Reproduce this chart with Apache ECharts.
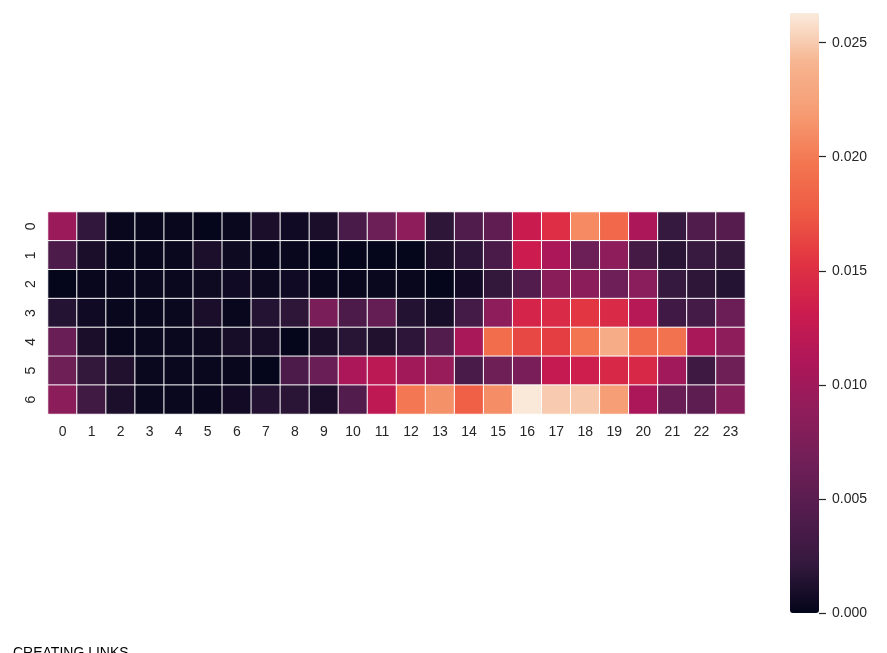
<!DOCTYPE html>
<html>
<head>
<meta charset="utf-8">
<script src="https://cdn.jsdelivr.net/npm/echarts@6/dist/echarts.min.js"></script>
<style>
  html, body { margin: 0; padding: 0; background: #fff; }
  #main { width: 887px; height: 653px; }
</style>
</head>
<body>
<div id="main"></div>
<script>
// 横轴：小时，纵轴：星期
var hours = ['0','1','2','3','4','5','6','7','8','9','10','11','12','13','14','15','16','17','18','19','20','21','22','23'];
var days = ['0','1','2','3','4','5','6'];

// 每一行的数值
var row0 = [0.0097,0.0020,0.0002,0.0002,0.0002,0.0001,0.0003,0.0010,0.0006,0.0010,0.0036,0.0063,0.0087,0.0019,0.0042,0.0053,0.0131,0.0149,0.0209,0.0187,0.0109,0.0022,0.0042,0.0047];
var row1 = [0.0040,0.0010,0.0002,0.0002,0.0003,0.0011,0.0005,0.0002,0.0002,0.0001,0.0001,0.0001,0.0001,0.0011,0.0018,0.0038,0.0132,0.0108,0.0063,0.0087,0.0034,0.0017,0.0024,0.0021];
var row2 = [0.0001,0.0002,0.0002,0.0003,0.0003,0.0005,0.0006,0.0004,0.0006,0.0002,0.0002,0.0003,0.0002,0.0001,0.0007,0.0021,0.0044,0.0083,0.0086,0.0065,0.0085,0.0022,0.0019,0.0015];
var row3 = [0.0015,0.0006,0.0002,0.0002,0.0003,0.0010,0.0002,0.0015,0.0019,0.0072,0.0040,0.0058,0.0014,0.0009,0.0033,0.0088,0.0140,0.0145,0.0155,0.0145,0.0117,0.0030,0.0033,0.0062];
var row4 = [0.0061,0.0010,0.0002,0.0003,0.0003,0.0004,0.0009,0.0009,0.0001,0.0010,0.0016,0.0013,0.0018,0.0044,0.0107,0.0190,0.0165,0.0159,0.0196,0.0235,0.0188,0.0194,0.0107,0.0087];
var row5 = [0.0064,0.0021,0.0013,0.0003,0.0003,0.0003,0.0002,0.0001,0.0040,0.0061,0.0108,0.0120,0.0102,0.0095,0.0036,0.0064,0.0072,0.0127,0.0134,0.0143,0.0143,0.0101,0.0029,0.0064];
var row6 = [0.0086,0.0031,0.0011,0.0003,0.0003,0.0002,0.0007,0.0014,0.0017,0.0010,0.0044,0.0122,0.0198,0.0213,0.0180,0.0211,0.0262,0.0250,0.0249,0.0222,0.0108,0.0060,0.0052,0.0081];

// 色条范围与刻度
var vMax = 0.0263;
var tickMax = 0.025;
var tickStep = 0.005;

var rows = [row0, row1, row2, row3, row4, row5, row6];
var data = [];
rows.forEach(function (r, y) {
  r.forEach(function (v, x) {
    data.push([x, y, v]);
  });
});

// rocket 色带
var rocket = ['#03051a','#35193e','#521c4d','#701f57','#8e1d5b','#ad1759','#cb1b4f',
              '#e13342','#ee5a43','#f37651','#f69c73','#f6b48f','#faebdd'];

var txt = '#262626';
var font = 'Liberation Sans, Arial, sans-serif';

// 色条位置：底部 613，高 600；刻度轴只覆盖 0 ~ 0.025
var barTop = 13, barH = 600;
var axisH = barH * tickMax / vMax;

var chart = echarts.init(document.getElementById('main'));
var option = {
  animation: false,
  grid: [
    { left: 48, top: 212, width: 697, height: 202 },
    { left: 790, top: barTop + barH - axisH, width: 29, height: axisH }
  ],
  xAxis: [
    {
      type: 'category', data: hours, gridIndex: 0,
      axisLine: { show: false }, axisTick: { show: false },
      axisLabel: { color: txt, fontSize: 14, fontFamily: font, margin: 11 },
      splitArea: { show: false }
    },
    { type: 'value', gridIndex: 1, show: false }
  ],
  yAxis: [
    {
      type: 'category', data: days, gridIndex: 0, inverse: true,
      axisLine: { show: false }, axisTick: { show: false },
      axisLabel: { color: txt, fontSize: 14, fontFamily: font, rotate: 90, margin: 10 },
      splitArea: { show: false }
    },
    {
      type: 'value', gridIndex: 1, position: 'right', min: 0, max: tickMax, interval: tickStep,
      z: 10,
      axisLine: { show: false, onZero: false },
      splitLine: { show: false },
      axisTick: { show: true, inside: false, length: 7, lineStyle: { color: txt, width: 1.2 } },
      axisLabel: {
        color: txt, fontSize: 14, fontFamily: font, margin: 13,
        formatter: function (v) { return v.toFixed(3); }
      }
    }
  ],
  visualMap: {
    type: 'continuous', min: 0, max: vMax, seriesIndex: 0,
    calculable: false, orient: 'vertical',
    left: 790, top: barTop, itemWidth: 29, itemHeight: barH, padding: 0,
    inRange: { color: rocket }
  },
  graphic: [{
    type: 'text', left: 13, top: 646,
    style: { text: 'CREATING LINKS', fontSize: 14, fontFamily: font, fill: '#000' }
  }],
  series: [{
    type: 'heatmap',
    xAxisIndex: 0, yAxisIndex: 0,
    data: data,
    itemStyle: { borderColor: '#ffffff', borderWidth: 1 },
    emphasis: { disabled: true }
  }]
};
chart.setOption(option);
</script>
</body>
</html>
